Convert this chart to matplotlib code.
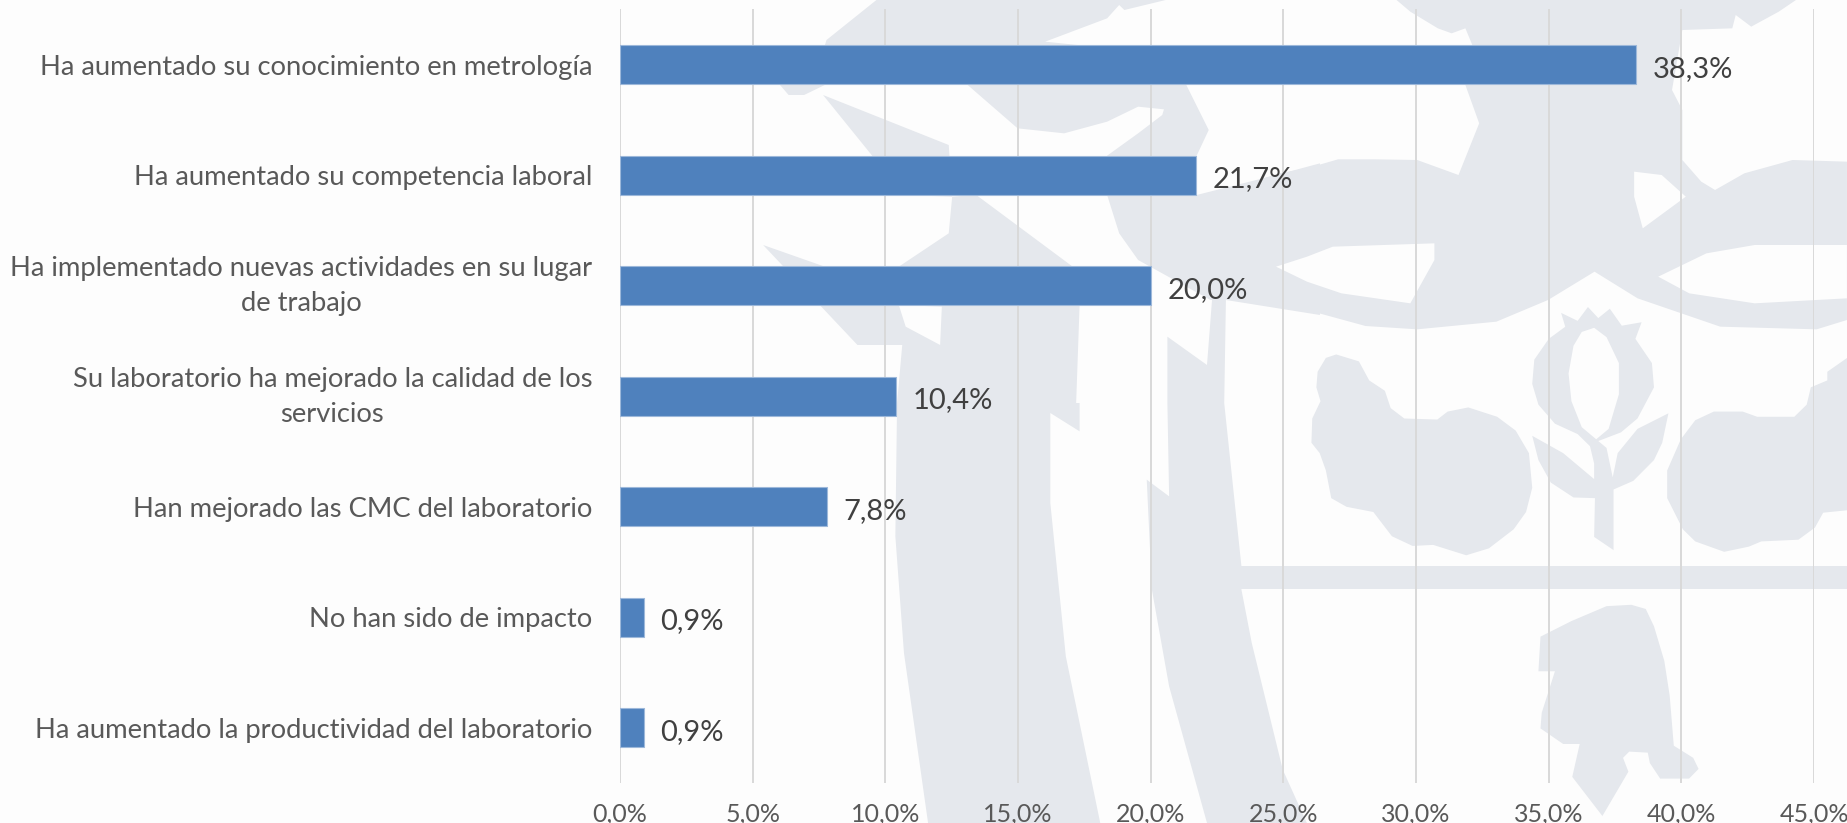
import matplotlib
matplotlib.use("Agg")
import matplotlib.pyplot as plt
from matplotlib.patches import Polygon
from matplotlib.transforms import ScaledTranslation

categories = ["Ha aumentado su conocimiento en metrología",
              "Ha aumentado su competencia laboral",
              "Ha implementado nuevas actividades en su lugar\nde trabajo",
              "Su laboratorio ha mejorado la calidad de los\nservicios",
              "Han mejorado las CMC del laboratorio",
              "No han sido de impacto",
              "Ha aumentado la productividad del laboratorio"]
values = [38.3, 21.7, 20.0, 10.4, 7.8, 0.9, 0.9]
xticks = [0, 5, 10, 15, 20, 25, 30, 35, 40, 45]

W, H = 1847, 823
BG = "#FDFDFD"
GREY = "#E5E8ED"
plt.rcParams['font.family'] = ['Lato', 'DejaVu Sans']

fig = plt.figure(figsize=(W / 100, H / 100), dpi=100, facecolor=BG)

# --- decorative watermark, drawn in pixel space ---
bgax = fig.add_axes([0, 0, 1, 1], zorder=0)
bgax.set_xlim(0, W); bgax.set_ylim(H, 0); bgax.axis("off")

def z4(p): return [(780 + x / 2.904, y / 3) for x, y in p]
def z5(p): return [(1307 + x / 2.904, y / 3) for x, y in p]
def z6(p): return [(780 + x / 2.904, 403 + y / 3) for x, y in p]
def z3(p): return [(1200 + x / 2.423, 280 + y / 2.888) for x, y in p]

grey_shapes = [
    # top-left cap running into the ribbon
    z4([(280, 0), (135, 120), (100, 240), (0, 255), (25, 285), (70, 285), (130, 255), (545, 255),
        (690, 385), (825, 400), (950, 365), (1040, 320), (1115, 328), (1110, 345), (1040, 400), (950, 467),
        (950, 585), (985, 700), (1040, 780), (1250, 900), (1295, 900), (1568, 945), (1568, 490),
        (1460, 520), (1210, 585), (1210, 467), (1245, 390), (1180, 255), (1100, 160), (770, 125),
        (950, 55), (985, 15), (1000, 30), (1120, 0)]),
    # central body
    z5([(260, 0), (300, 35), (380, 85), (420, 100), (460, 85), (480, 135), (460, 255), (500, 370), (440, 525),
        (320, 480), (200, 478), (90, 478), (0, 505), (-80, 520), (-280, 585), (-280, 780), (0, 930), (170, 978),
        (320, 988), (550, 965), (700, 900), (835, 815), (960, 895), (1200, 980), (1480, 988), (1568, 960),
        (1568, 485), (1410, 480), (1270, 520), (1185, 570), (1145, 545), (1090, 480), (1090, 330), (1060, 270),
        (1090, 90), (1235, 85), (1245, 45), (1290, 80), (1370, 35), (1420, 0)]),
    # diagonal wedges + left column
    z4([(125, 285), (490, 435), (500, 590), (570, 585), (850, 800), (870, 915), (860, 1209),
        (340, 1209), (355, 1035), (225, 1035), (-49, 735), (130, 800), (345, 800),
        (490, 700), (500, 590), (360, 585)]),
    z6([(340, 0), (335, 400), (360, 750), (430, 1260), (930, 1260), (830, 760), (785, 300), (785, 30),
        (870, 85), (870, 0)]),
    # right column
    z4([(1255, 895), (1240, 1095), (1125, 1010), (1125, 1209), (1290, 1209), (1295, 895)]),
    z6([(1125, 0), (1130, 280), (1065, 230), (1080, 560), (1130, 850), (1240, 1260), (1530, 1260),
        (1460, 1100), (1370, 720), (1340, 560), (1340, 490), (1290, 0)]),
    # horizontal band
    [(1241, 565.7), (W, 565.7), (W, 589), (1241, 589)],
    # left charge
    z3([(330, 215), (385, 235), (410, 290), (448, 320), (462, 370), (495, 400), (575, 403), (600, 380), (650, 368),
        (720, 395), (765, 435), (797, 500), (805, 600), (790, 670), (760, 720), (700, 775), (645, 795), (565, 765),
        (515, 768), (465, 740), (420, 670), (355, 655), (318, 630), (305, 550), (290, 500), (270, 470), (272, 400),
        (292, 350), (282, 310), (285, 265), (305, 225)]),
    # right charge
    z3([(1568, 225), (1520, 265), (1520, 290), (1480, 310), (1470, 360), (1440, 395), (1350, 395), (1315, 380),
        (1245, 380), (1200, 405), (1165, 460), (1132, 550), (1132, 630), (1170, 720), (1200, 755), (1270, 785),
        (1330, 770), (1360, 755), (1450, 750), (1490, 715), (1510, 672), (1568, 665)]),
    # pomegranate
    z3([(875, 95), (915, 118), (940, 78), (965, 110), (993, 83), (1022, 132), (1070, 122), (1055, 170), (1095, 240),
        (1100, 310), (1060, 400), (1020, 440), (965, 465), (985, 485), (1000, 570), (1012, 500), (1060, 430),
        (1135, 385), (1120, 470), (1100, 520), (1050, 580), (1002, 605), (1002, 780), (955, 742), (957, 630),
        (905, 628), (850, 585), (820, 520), (805, 450), (880, 500), (955, 575), (955, 530), (945, 480), (915, 445),
        (860, 415), (820, 360), (805, 300), (810, 230), (845, 170), (885, 135)]),
    # lower charge
    z3([(985, 942), (1045, 938), (1080, 950), (1100, 1000), (1125, 1100), (1138, 1200), (1148, 1345), (1195, 1380),
        (1208, 1412), (1185, 1440), (1115, 1440), (1090, 1395), (1085, 1365), (1040, 1362), (1025, 1380), (1038, 1420),
        (975, 1548), (902, 1435), (920, 1340), (880, 1340), (825, 1295), (828, 1250), (860, 1130), (820, 1130),
        (825, 1030), (900, 985)]),
]
white_shapes = [
    z5([(0, 770), (75, 740), (370, 730), (370, 780), (300, 910), (100, 880), (0, 845), (-90, 800)]),
    z5([(1020, 830), (1160, 760), (1300, 735), (1568, 735), (1568, 895), (1300, 910), (1110, 880)]),
    z5([(950, 515), (1030, 525), (1100, 590), (975, 685), (950, 590)]),
    z3([(955, 138), (985, 165), (1015, 240), (1015, 330), (990, 430), (960, 460), (925, 425), (900, 350), (893, 270),
        (905, 190), (925, 150)]),
    z4([(345, 915), (365, 980), (465, 1035), (470, 920)]),
]
for s in grey_shapes:
    bgax.add_patch(Polygon(s, closed=True, fc=GREY, ec="none"))
for s in white_shapes:
    bgax.add_patch(Polygon(s, closed=True, fc=BG, ec="none"))

# --- chart ---
L, R, T, B = 620, 1814, 9.3, 783
ax = fig.add_axes([L / W, 1 - B / H, (R - L) / W, (B - T) / H], zorder=1)
ax.patch.set_alpha(0)

y = list(range(len(categories)))
bars = ax.barh(y, values, height=0.353, color="#4F81BD", edgecolor="#9DB8DA", linewidth=0.8, zorder=3)
ax.set_xlim(0, 45)
ax.set_ylim(len(categories) - 0.5, -0.5)
ax.set_yticks(y)
ax.set_yticklabels(categories, fontsize=19.7, color="#595959", ha="right", ma="center", linespacing=1.5)
ax.set_xticks(xticks)
ax.set_xticklabels([f"{t:.1f}%".replace(".", ",") for t in xticks], fontsize=18, color="#595959")
ax.tick_params(axis="y", length=0, pad=20)
ax.tick_params(axis="x", length=0, pad=14)
ax.grid(axis="x", color="#D9D9D9", linewidth=1.4, zorder=1)
ax.set_axisbelow(True)
for s in ax.spines.values():
    s.set_visible(False)

# two-line labels sit slightly above the bar centre
for lab in ax.get_yticklabels():
    if "\n" in lab.get_text():
        lab.set_transform(lab.get_transform() + ScaledTranslation(0, 0.07, fig.dpi_scale_trans))

for yi, v in zip(y, values):
    ax.annotate(f"{v:.1f}%".replace(".", ","), xy=(v, yi), xytext=(12, -3), textcoords="offset points",
                ha="left", va="center", fontsize=21, color="#404040", zorder=4)

fig.savefig("out.png", dpi=100, facecolor=BG)
